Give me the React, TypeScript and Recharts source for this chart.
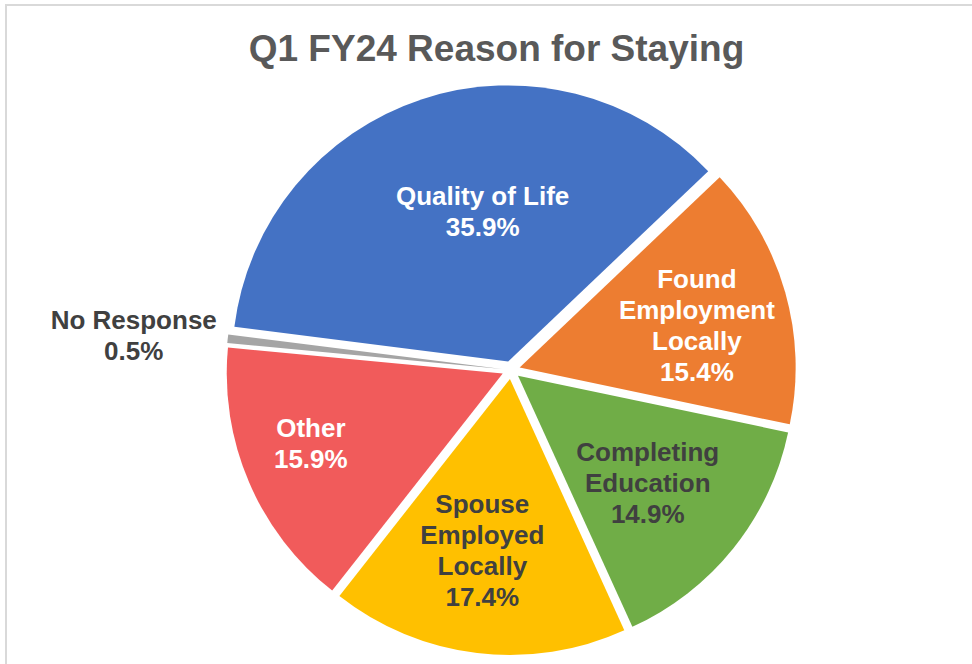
import { PieChart, Pie, Cell, Sector } from 'recharts';

const categories = [
  'Quality of Life',
  'Found Employment Locally',
  'Completing Education',
  'Spouse Employed Locally',
  'Other',
  'No Response',
];
const shares = [35.9, 15.4, 14.9, 17.4, 15.9, 0.5];

const COLORS = ['#4472C4', '#ED7D31', '#70AD47', '#FFC000', '#F15B5B', '#A5A5A5'];
const LABEL_COLORS = ['#FFFFFF', '#FFFFFF', '#404040', '#404040', '#FFFFFF', '#404040'];
// label spot per slice: [fraction of radius, clockwise shift in degrees]
const LABEL_SPOTS: [number, number][] = [
  [0.55, 8.5],
  [0.66, 2.5],
  [0.61, 0.9],
  [0.63, 2.3],
  [0.74, 3.2],
  [1.34, -1.1],
];

const FONT = "'Liberation Sans', Arial, sans-serif";
const EXPLODE = 9;
const RAD = Math.PI / 180;
const WRAP_WIDTH = 200;

const data = categories.map((name, i) => ({ name, value: shares[i] }));

let ctx: CanvasRenderingContext2D | null = null;
function wrap(text: string): string[] {
  if (!ctx) ctx = document.createElement('canvas').getContext('2d');
  if (!ctx) return [text];
  ctx.font = `bold 26px ${FONT}`;
  const lines: string[] = [];
  let cur = '';
  for (const w of text.split(' ')) {
    const next = cur ? `${cur} ${w}` : w;
    if (cur && ctx.measureText(next).width > WRAP_WIDTH) {
      lines.push(cur);
      cur = w;
    } else {
      cur = next;
    }
  }
  if (cur) lines.push(cur);
  return lines;
}

function ExplodedSector(props: any) {
  const { cx, cy, midAngle } = props;
  const dx = EXPLODE * Math.cos(-midAngle * RAD);
  const dy = EXPLODE * Math.sin(-midAngle * RAD);
  return <Sector {...props} cx={cx + dx} cy={cy + dy} stroke="none" />;
}

function renderLabel(props: any) {
  const { cx, cy, midAngle, outerRadius, index } = props;
  const [frac, shift] = LABEL_SPOTS[index];
  const ox = cx + EXPLODE * Math.cos(-midAngle * RAD);
  const oy = cy + EXPLODE * Math.sin(-midAngle * RAD);
  const a = (midAngle - shift) * RAD;
  const x = ox + outerRadius * frac * Math.cos(-a);
  const y = oy + outerRadius * frac * Math.sin(-a);
  const lines = [...wrap(categories[index]), `${shares[index].toFixed(1)}%`];
  const lh = 31;
  return (
    <text
      x={x}
      y={y}
      textAnchor="middle"
      fill={LABEL_COLORS[index]}
      fontSize={26}
      fontWeight="bold"
      fontFamily={FONT}
    >
      {lines.map((l, i) => (
        <tspan key={i} x={x} y={y + (i - (lines.length - 1) / 2) * lh} dominantBaseline="central">
          {l}
        </tspan>
      ))}
    </text>
  );
}

export default function App() {
  return (
    <div
      style={{
        position: 'absolute',
        left: 0,
        top: 0,
        width: 972,
        height: 664,
        overflow: 'hidden',
        background: '#fff',
      }}
    >
      <div
        style={{
          position: 'absolute',
          left: 5,
          top: 4,
          width: 1000,
          height: 700,
          border: '2px solid #D9D9D9',
        }}
      />
      <div
        style={{
          position: 'absolute',
          left: 0,
          top: 30,
          width: 993,
          textAlign: 'center',
          fontFamily: FONT,
          fontWeight: 'bold',
          fontSize: 37,
          lineHeight: '37px',
          color: '#595959',
        }}
      >
        Q1 FY24 Reason for Staying
      </div>
      <div style={{ position: 'absolute', left: 0, top: 0 }}>
        <PieChart width={972} height={664} margin={{ top: 0, right: 0, bottom: 0, left: 0 }}>
          <Pie
            data={data}
            dataKey="value"
            nameKey="name"
            cx={511}
            cy={370}
            outerRadius={276}
            startAngle={172.8}
            endAngle={-187.2}
            shape={ExplodedSector}
            label={renderLabel}
            labelLine={false}
            isAnimationActive={false}
          >
            {data.map((d, i) => (
              <Cell key={d.name} fill={COLORS[i]} />
            ))}
          </Pie>
        </PieChart>
      </div>
    </div>
  );
}
